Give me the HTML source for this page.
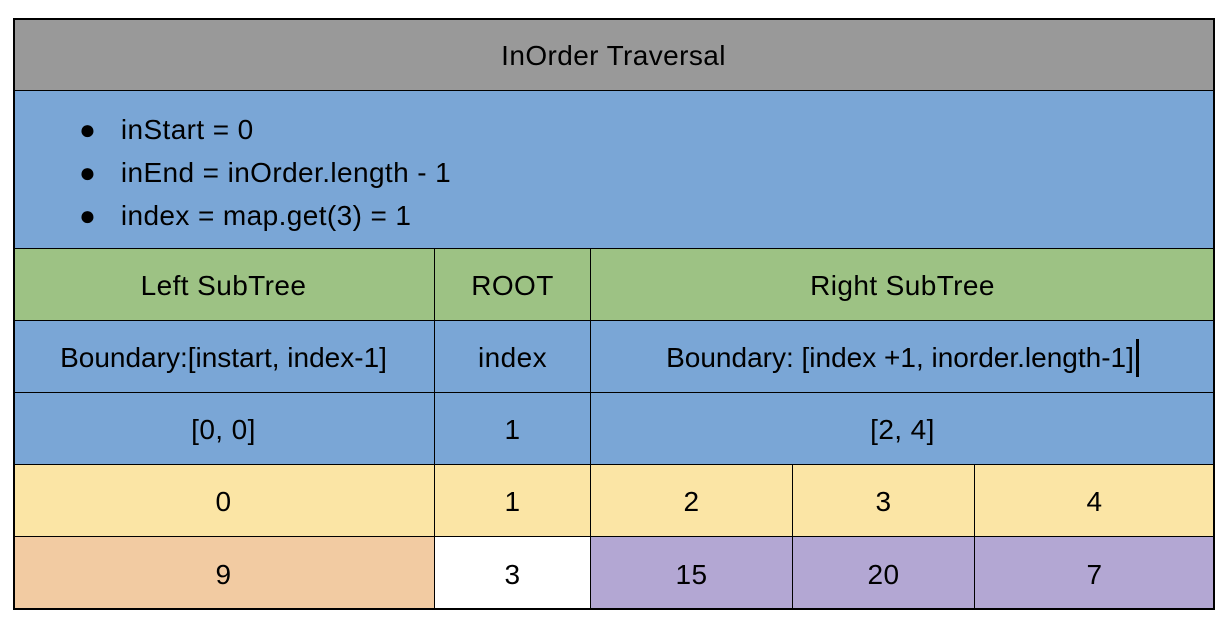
<!DOCTYPE html>
<html><head><style>
body{margin:0;width:1228px;height:628px;background:#fff;font-family:"Liberation Sans",sans-serif;overflow:hidden}
.c{position:absolute;box-sizing:border-box;display:flex;align-items:center;justify-content:center;font-size:28px;letter-spacing:0.4px;color:#000;border-right:1px solid #000;border-bottom:1px solid #000;padding-top:3px}
#o{position:absolute;left:13px;top:18px;width:1202px;height:592px;box-sizing:border-box;border:2px solid #000;pointer-events:none}
</style></head><body>
<div class="c" style="left:13px;top:18px;width:1202px;height:73px;background:#999">InOrder Traversal</div>
<div class="c" style="left:13px;top:91px;width:1202px;height:158px;background:#7aa6d6;display:block">
<div style="position:absolute;left:66px;top:17px;line-height:43px;font-size:28px">
<div>●&nbsp;&nbsp;&nbsp;inStart = 0</div>
<div>●&nbsp;&nbsp;&nbsp;inEnd = inOrder.length - 1</div>
<div>●&nbsp;&nbsp;&nbsp;index = map.get(3) = 1</div>
</div></div>
<div class="c" style="left:13px;top:249px;width:422px;height:72px;background:#9dc284">Left SubTree</div>
<div class="c" style="left:435px;top:249px;width:156px;height:72px;background:#9dc284">ROOT</div>
<div class="c" style="left:591px;top:249px;width:624px;height:72px;background:#9dc284">Right SubTree</div>
<div class="c" style="left:13px;top:321px;width:422px;height:72px;background:#7aa6d6;font-size:28px;letter-spacing:0">Boundary:[instart, index-1]</div>
<div class="c" style="left:435px;top:321px;width:156px;height:72px;background:#7aa6d6">index</div>
<div class="c" style="left:591px;top:321px;width:624px;height:72px;background:#7aa6d6;font-size:28px;letter-spacing:0">Boundary: [index +1, inorder.length-1]<span style="display:inline-block;width:3px;height:38px;background:#000;margin-left:2px"></span></div>
<div class="c" style="left:13px;top:393px;width:422px;height:72px;background:#7aa6d6">[0, 0]</div>
<div class="c" style="left:435px;top:393px;width:156px;height:72px;background:#7aa6d6">1</div>
<div class="c" style="left:591px;top:393px;width:624px;height:72px;background:#7aa6d6">[2, 4]</div>
<div class="c" style="left:13px;top:465px;width:422px;height:72px;background:#fbe5a5">0</div>
<div class="c" style="left:435px;top:465px;width:156px;height:72px;background:#fbe5a5">1</div>
<div class="c" style="left:591px;top:465px;width:202px;height:72px;background:#fbe5a5">2</div>
<div class="c" style="left:793px;top:465px;width:182px;height:72px;background:#fbe5a5">3</div>
<div class="c" style="left:975px;top:465px;width:240px;height:72px;background:#fbe5a5">4</div>
<div class="c" style="left:13px;top:537px;width:422px;height:73px;background:#f2cba2">9</div>
<div class="c" style="left:435px;top:537px;width:156px;height:73px;background:#fff">3</div>
<div class="c" style="left:591px;top:537px;width:202px;height:73px;background:#b3a7d3">15</div>
<div class="c" style="left:793px;top:537px;width:182px;height:73px;background:#b3a7d3">20</div>
<div class="c" style="left:975px;top:537px;width:240px;height:73px;background:#b3a7d3">7</div>
<div id="o"></div>
</body></html>
